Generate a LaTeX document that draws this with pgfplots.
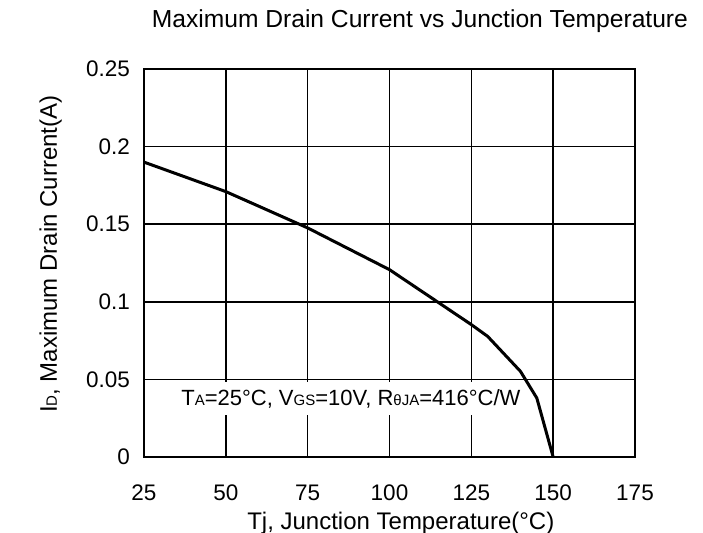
\documentclass[border=0pt]{standalone}
\usepackage{fontspec}
\setmainfont{Liberation Sans}
\usepackage{pgfplots}
\pgfplotsset{compat=1.18}

% small letters standing on the baseline, as in the datasheet
\newcommand\sm[1]{{\fontsize{15bp}{15bp}\selectfont #1}}

\begin{document}
\begin{tikzpicture}
\useasboundingbox (-144bp,-76bp) rectangle (559bp,457bp);
\begin{axis}[
    scale only axis,
    width=491bp, height=388bp,
    xmin=25, xmax=175,
    ymin=0, ymax=0.25,
    xtick={25,50,75,100,125,150,175},
    ytick={0,0.05,0.1,0.15,0.2,0.25},
    yticklabels={0,0.05,0.1,0.15,0.2,0.25},
    /pgf/number format/assume math mode=true,
    ticklabel style={font=\fontsize{22.5bp}{24bp}\selectfont},
    xticklabel style={anchor=base, inner sep=0pt, yshift=-43bp},
    yticklabel style={anchor=east, inner sep=0pt, xshift=-14bp},
    major tick length=0pt,
    grid=major,
    grid style={black, line width=1.5bp},
    axis line style={black, line width=1.6bp},
    clip=false,
]
\node[anchor=base, font=\fontsize{24.6bp}{26bp}\selectfont]
    at (axis description cs:0.562,1.108)
    {Maximum Drain Current vs Junction Temperature};
\node[anchor=base, rotate=90, font=\fontsize{24bp}{26bp}\selectfont]
    at (axis description cs:-0.1772,0.523)
    {I\sm{D}, Maximum Drain Current(A)};
\node[anchor=base, font=\fontsize{24bp}{26bp}\selectfont]
    at (axis description cs:0.523,-0.1856)
    {Tj, Junction Temperature(°C)};

\node[anchor=base, fill=white, inner xsep=4bp, inner ysep=0pt,
      text height=23bp, text depth=10bp,
      font=\fontsize{22bp}{24bp}\selectfont]
    at (axis cs:88.2,0.0335)
    {T\sm{A}=25°C, V\sm{GS}=10V, R\sm{θJA}=416°C/W};

\addplot[black, line width=3bp, line join=round] coordinates {
    (25,0.190) (50,0.171) (75,0.1476) (100,0.1207) (125,0.0853)
    (130,0.0777) (140,0.0552) (145,0.038) (150,0)
};
\end{axis}
\end{tikzpicture}
\end{document}
